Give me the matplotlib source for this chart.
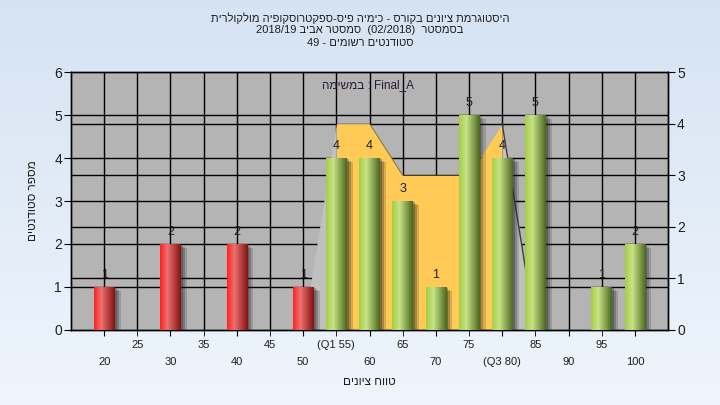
import numpy as np
import matplotlib
matplotlib.use('Agg')
import matplotlib.pyplot as plt
from matplotlib import patheffects as pe
from matplotlib.transforms import blended_transform_factory

plt.rcParams['font.family'] = ['Liberation Sans', 'DejaVu Sans']


def rtl(s):
    # matplotlib has no bidi support, so hebrew runs are reversed by hand
    return s[::-1]


# data
grades = [20, 30, 40, 50, 55, 60, 65, 70, 75, 80, 85, 95, 100]
counts = [1, 2, 2, 1, 4, 4, 3, 1, 5, 4, 5, 1, 2]
pass_grade = 55
area_x = [50, 55, 60, 65, 70, 75, 80, 85]
area_y = [0, 4, 4, 3, 3, 3, 4, 0]
q1, q3 = 55, 80
row2_ticks = [20, 30, 40, 50, 60, 70, 80, 90, 100]
row2_labels = ['20', '30', '40', '50', '60', '70', '(Q3 80)', '90', '100']
row1_ticks = [25, 35, 45, 55, 65, 75, 85, 95]
row1_labels = ['25', '35', '45', '(Q1 55)', '65', '75', '85', '95']
left_ticks = [0, 1, 2, 3, 4, 5, 6]
right_ticks = [0, 1, 2, 3, 4, 5]

title_lines = [
    rtl('היסטוגרמת ציונים בקורס - כימיה פיס-ספקטרוסקופיה מולקולרית'),
    '2018/19 ' + rtl('סמסטר אביב') + '  (02/2018)  ' + rtl('בסמסטר'),
    '49 - ' + rtl('סטודנטים רשומים'),
]
note = rtl('במשימה') + ' : Final_A'
xlab = rtl('טווח ציונים')
ylab = rtl('מספר סטודנטים')

txt = '#1e1e1e'

fig = plt.figure(figsize=(7.2, 4.05), dpi=100)
fig.patch.set_facecolor('#e6eef8')

# light blue background gradient
bg = fig.add_axes([0, 0, 1, 1], zorder=-10)
top = np.array([0.835, 0.890, 0.953])
bot = np.array([0.937, 0.961, 0.988])
t = np.linspace(0, 1, 256)[:, None]
grad = top[None, None, :] * (1 - t[:, :, None]) + bot[None, None, :] * t[:, :, None]
bg.imshow(grad, aspect='auto', extent=[0, 1, 0, 1])
bg.set_axis_off()

ax = fig.add_axes([0.0986, 0.1852, 0.8292, 0.637])
axr = ax.twinx()
ax.set_zorder(axr.get_zorder() + 1)
ax.patch.set_visible(False)
axr.patch.set_visible(True)
axr.set_facecolor('#b4b4b4')

ax.set_xlim(15, 105)
ax.set_ylim(0, 6)
axr.set_ylim(0, 5)

# grid lines, all kept under the area
trans = blended_transform_factory(axr.transAxes, ax.transData)
for v in left_ticks[1:-1]:
    axr.plot([0, 1], [v, v], transform=trans, color='k', lw=1.0, zorder=1)
for v in right_ticks[1:-1]:
    axr.axhline(v, color='k', lw=1.0, zorder=1)
for xv in row1_ticks + row2_ticks:
    axr.axvline(xv, color='k', lw=1.0, zorder=1)

# area on the right scale: yellow between Q1 and Q3, grey on the slopes
ax_arr = np.array(area_x)
ay_arr = np.array(area_y)
mid = (ax_arr >= q1) & (ax_arr <= q3)
axr.fill_between(ax_arr[mid], ay_arr[mid], color='#ffca55', lw=0, zorder=2)
axr.fill_between(ax_arr[:2], ay_arr[:2], color='#c0c0c0', lw=0, zorder=2)
axr.fill_between(ax_arr[-2:], ay_arr[-2:], color='#c0c0c0', lw=0, zorder=2)
axr.plot(ax_arr[-2:], ay_arr[-2:], color='#404040', lw=1.0, zorder=2.5)
axr.plot(ax_arr[2:4], ay_arr[2:4], color='#8a7a50', lw=0.8, zorder=2.5)

# bars
colors = ['#e02020' if g < pass_grade else '#90c040' for g in grades]
shadow = [pe.SimplePatchShadow(offset=(4.5, -3), shadow_rgbFace='#202020', alpha=0.18),
          pe.SimplePatchShadow(offset=(3, -2), shadow_rgbFace='#202020', alpha=0.25),
          pe.SimplePatchShadow(offset=(1.5, -1), shadow_rgbFace='#202020', alpha=0.3),
          pe.Normal()]
bars = ax.bar(grades, counts, width=3.1, color=colors, zorder=3, path_effects=shadow)


def ramp(stops, n=64):
    pos = [s[0] for s in stops]
    xs = np.linspace(0, 1, n)
    rgb = [np.interp(xs, pos, [s[1][c] for s in stops]) for c in range(3)]
    return np.stack(rgb, axis=-1)[None, :, :]


red_ramp = ramp([(0, (1.0, 0.13, 0.13)), (0.35, (0.93, 0.44, 0.44)), (1, (0.52, 0.07, 0.07))])
green_ramp = ramp([(0, (0.63, 0.81, 0.26)), (0.35, (0.79, 0.89, 0.53)), (1, (0.29, 0.41, 0.12))])

for b, g, c in zip(bars, grades, counts):
    x0, w, h = b.get_x(), b.get_width(), b.get_height()
    img = red_ramp if g < pass_grade else green_ramp
    ax.imshow(img, extent=[x0, x0 + w, 0, h], aspect='auto', zorder=4, interpolation='bilinear')
    ax.annotate(str(c), (x0 + w / 2, h), xytext=(0, 4), textcoords='offset points',
                ha='center', va='bottom', fontsize=9, color=txt, zorder=5)

ax.set_xlim(15, 105)
ax.set_ylim(0, 6)

# x ticks on two rows
ax.set_xticks(row2_ticks)
ax.set_xticklabels(row2_labels)
ax.set_xticks(row1_ticks, minor=True)
ax.set_xticklabels(row1_labels, minor=True)
ax.tick_params(axis='x', which='major', length=4, pad=15.5, labelsize=8, labelcolor=txt)
ax.tick_params(axis='x', which='minor', length=4, pad=3.5, labelsize=8, labelcolor=txt)
ax.set_yticks(left_ticks)
ax.tick_params(axis='y', length=5, pad=1.5, labelsize=10, labelcolor=txt)
axr.set_yticks(right_ticks)
axr.tick_params(axis='y', length=5, pad=1.5, labelsize=10, labelcolor=txt)

for a in (ax, axr):
    for s in a.spines.values():
        s.set_color('k')
        s.set_linewidth(1.0)

ax.set_xlabel(xlab, fontsize=8.5, color=txt)
ax.xaxis.set_label_coords(0.50, -0.178)
ax.set_ylabel(ylab, fontsize=8.5, color=txt)
ax.yaxis.set_label_coords(-0.053, 0.5)

ax.text(0.497, 0.95, note, transform=ax.transAxes, ha='center', va='center',
        fontsize=8.5, color='#2a1a3a', zorder=6)

for y, line in zip([0.955, 0.926, 0.895], title_lines):
    fig.text(0.5, y, line, ha='center', va='center', fontsize=8, color=txt)

fig.savefig('out.png', dpi=100)
